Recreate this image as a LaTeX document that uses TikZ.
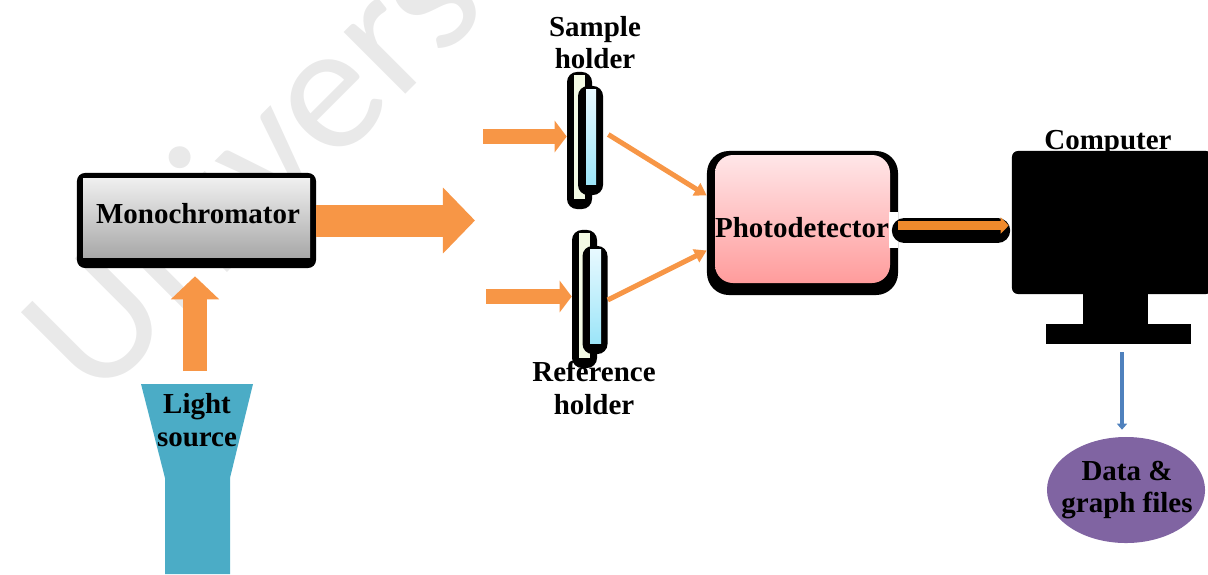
\documentclass[tikz,border=0pt]{standalone}
\usepackage{fontspec}
\setmainfont{Liberation Serif}
\newfontfamily\markfont{Carlito}
\usetikzlibrary{arrows.meta,calc,shapes.geometric}
\definecolor{beam}{HTML}{F79646}
\definecolor{amber}{HTML}{EF8A2C}
\definecolor{lamp}{HTML}{4BACC6}
\definecolor{wire}{HTML}{4F81BD}
\definecolor{files}{HTML}{8064A2}
\definecolor{pinktop}{HTML}{FFE6E8}
\definecolor{pinkbot}{HTML}{FF9C9C}
\definecolor{glasstop}{HTML}{E8F9FF}
\definecolor{glassbot}{HTML}{9CE5F8}
\definecolor{strip}{HTML}{F3FAE4}
\newlength\px
\setlength\px{0.025cm}

\begin{document}
\begin{tikzpicture}[x=\px,y=-\px,
  lbl/.style={font=\bfseries\fontsize{20.6}{23}\selectfont,align=center,inner sep=0pt},
  box/.style={fill=black,inner sep=0pt},
  plate/.style={fill=black,rounded corners=0.25cm,inner sep=0pt,minimum width=0.625cm},
  wide beam/.style={draw=beam,line width=0.8cm,-{Triangle[length=0.8cm,width=1.6cm]}},
  up beam/.style={draw=beam,line width=0.6cm,-{Triangle[length=0.575cm,width=1.175cm]}},
  small beam/.style={draw=beam,line width=0.375cm,-{Triangle[length=0.3cm,width=0.775cm]}},
  thin beam/.style={draw=beam,line width=0.125cm,-{Triangle[length=0.3cm,width=0.35cm]}}]
\useasboundingbox (0,0) rectangle (1208,574);
\clip (0,0) rectangle (1208,574);

% watermark
\node (mark) [rotate=45,anchor=base west,inner sep=0pt,text=gray!17,
  font=\markfont\fontsize{130}{130}\selectfont] at (95,405) {University};

% light source and monochromator
\fill [lamp] (141,384) -- (253,384) -- (230,478) -- (230,574) -- (165,574) -- (165,478) -- cycle;
\node (light) [lbl] at (197,420) {Light\\source};
\node (mono) [box,rounded corners=0.2cm,minimum width=5.975cm,minimum height=2.375cm] at (196.5,220.5) {};
\shade [top color=gray!12,bottom color=gray!68] (83,178) rectangle (310,257);
\node (monolabel) [lbl] at (198,214) {Monochromator};
\coordinate (lamptop) at (195,371);
\draw [up beam,shorten >=0.2cm] (lamptop) -- (lamptop |- mono.south);
\coordinate (split) at (475,220.5);
\draw [wide beam] (mono.east) -- (split);

% holders
\coordinate (in1) at (483,136.5);
\coordinate (in2) at (486,296.5);
\node (sampleback) [plate,minimum height=3.425cm] at (579.5,140.5) {};
\fill [strip] (574,75) rectangle (585,199);
\node (sample) [plate,minimum height=2.725cm] at (590.5,140.5) {};
\shade [top color=glasstop,bottom color=glassbot] (586,89) rectangle (596,184);
\node (referback) [plate,minimum height=3.45cm] at (584.5,299) {};
\fill [strip] (579,233) rectangle (590,358);
\node (refer) [plate,minimum height=2.7cm] at (595,300) {};
\shade [top color=glasstop,bottom color=glassbot] (590,249) rectangle (601,343);
\draw [small beam] (in1) -- (in1 -| sampleback.west);
\draw [small beam] (in2) -- (in2 -| referback.west);
\node (sampletext) [lbl] at (595,42.5) {Sample\\holder};
\node (refertext) [lbl] at (594,388) {Reference\\holder};

% photodetector
\node (photo) [box,rounded corners=0.55cm,minimum width=4.775cm,minimum height=3.6cm] at (802.5,223) {};
\shade [rounded corners=0.45cm,top color=pinktop,bottom color=pinkbot] (715,155) rectangle (890,283);
\fill [white] (889,212) rectangle (898,248);
\node (photolabel) [lbl] at (802,227.5) {Photodetector};
\draw [thin beam] ($(sample.east)+(5,-6)$) -- (photo.164);
\draw [thin beam] (refer.east) -- (photo.196);

% computer
\node (computer) [box,rounded corners=0.15cm,minimum width=5cm,minimum height=3.575cm] at (1112,222.5) {};
\fill (1083,293) rectangle (1148,325);
\node (stand) [box,minimum width=3.625cm,minimum height=0.5cm] at (1118.5,334) {};
\node (complabel) [lbl] at (1108,143) {Computer};
\draw [line width=0.625cm,line cap=round,shorten <=0.15cm,shorten >=0.35cm]
  ($(photo.east)+(0,7.5)$) -- ($(computer.west)+(0,8)$);
\draw [amber,line width=0.225cm,shorten >=0.075cm,-{Triangle[length=0.2cm,width=0.4cm]}]
  ($(photo.east)+(0,2.5)$) -- ($(computer.west)+(0,3)$);

% data files
\node (files) [ellipse,fill=files,inner sep=0pt,minimum width=3.95cm,minimum height=2.65cm] at (1126,490) {};
\node (fileslabel) [lbl] at (1127,490) {Data \&\\graph files};
\coordinate (drop) at ($(stand.south)+(3.5,8)$);
\draw [wire,line width=0.1cm,shorten >=0.175cm,-{Triangle[length=0.15cm,width=0.25cm]}] (drop) -- (drop |- files.north);
\end{tikzpicture}
\end{document}
